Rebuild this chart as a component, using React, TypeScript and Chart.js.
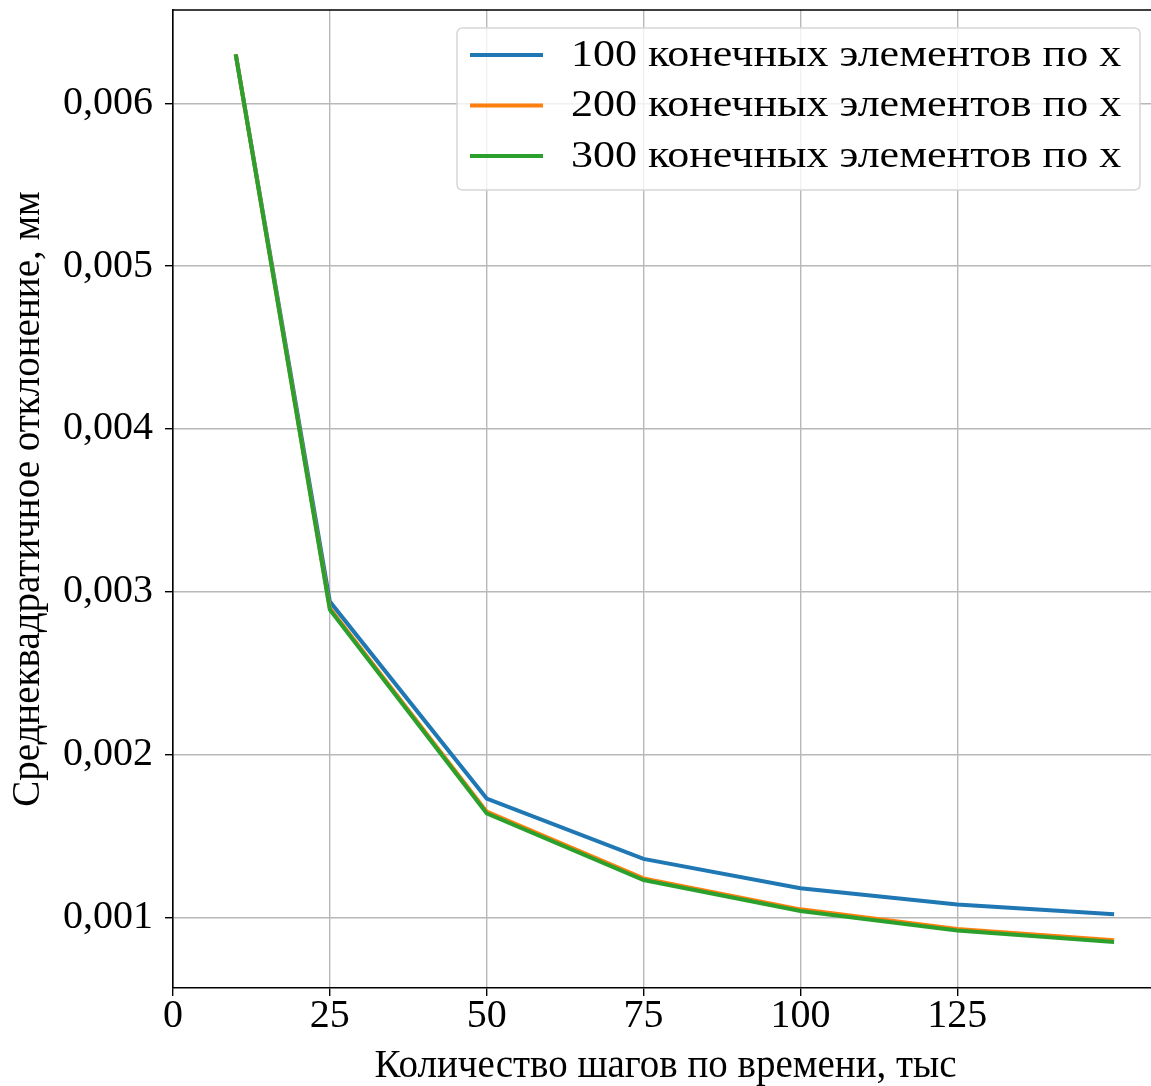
import React, { useEffect, useRef } from 'react';
import { Chart, registerables } from 'chart.js';

Chart.register(...registerables);

// ---- data ----
const timeSteps = [10, 25, 50, 75, 100, 125, 150];
const series100 = [0.0063, 0.00294, 0.00173, 0.00136, 0.00118, 0.00108, 0.00102];
const series200 = [0.0063, 0.0029, 0.00165, 0.00124, 0.00105, 0.00093, 0.00086];
const series300 = [0.0063, 0.00289, 0.00164, 0.00123, 0.00104, 0.00092, 0.00085];
const seriesLabels = [
  '100 конечных элементов по x',
  '200 конечных элементов по x',
  '300 конечных элементов по x',
];
const xTickValues = [0, 25, 50, 75, 100, 125];
const yTickValues = [0.001, 0.002, 0.003, 0.004, 0.005, 0.006];
const xTitle = 'Количество шагов по времени, тыс';
const yTitle = 'Среднеквадратичное отклонение, мм';

const FONT = "'Liberation Serif', 'Times New Roman', serif";
const COLORS = ['#1f77b4', '#ff7f0e', '#2ca02c'];

const W = 1160;
const H = 1086;

const framePlugin = {
  id: 'frameAndLegend',
  afterDatasetsDraw(chart: any) {
    const { ctx, chartArea } = chart;
    ctx.save();
    // top & right spines
    ctx.strokeStyle = '#000';
    ctx.lineWidth = 1.6;
    ctx.beginPath();
    ctx.moveTo(chartArea.left, chartArea.top);
    ctx.lineTo(chartArea.right, chartArea.top);
    ctx.lineTo(chartArea.right, chartArea.bottom);
    ctx.stroke();

    // legend (matplotlib style, upper right inside axes)
    const bx = 457, by = 28, bw = 683, bh = 162, r = 6;
    ctx.beginPath();
    ctx.moveTo(bx + r, by);
    ctx.lineTo(bx + bw - r, by);
    ctx.quadraticCurveTo(bx + bw, by, bx + bw, by + r);
    ctx.lineTo(bx + bw, by + bh - r);
    ctx.quadraticCurveTo(bx + bw, by + bh, bx + bw - r, by + bh);
    ctx.lineTo(bx + r, by + bh);
    ctx.quadraticCurveTo(bx, by + bh, bx, by + bh - r);
    ctx.lineTo(bx, by + r);
    ctx.quadraticCurveTo(bx, by, bx + r, by);
    ctx.closePath();
    ctx.fillStyle = 'rgba(255,255,255,0.8)';
    ctx.fill();
    ctx.strokeStyle = '#d6d6d6';
    ctx.lineWidth = 1.5;
    ctx.stroke();

    chart.data.datasets.forEach((ds: any, i: number) => {
      const y = 55 + i * 50.5;
      ctx.strokeStyle = ds.borderColor;
      ctx.lineWidth = 4;
      ctx.beginPath();
      ctx.moveTo(470, y);
      ctx.lineTo(543, y);
      ctx.stroke();
      ctx.save();
      ctx.translate(571, y + 1);
      ctx.scale(1.19, 1);
      ctx.fillStyle = '#000';
      ctx.font = `37px ${FONT}`;
      ctx.textAlign = 'left';
      ctx.textBaseline = 'middle';
      ctx.fillText(ds.label, 0, 0);
      ctx.restore();
    });
    ctx.restore();
  },
};

export default function App() {
  const ref = useRef<HTMLCanvasElement | null>(null);

  useEffect(() => {
    if (!ref.current) return;
    const mk = (vals: number[]) => timeSteps.map((x, i) => ({ x, y: vals[i] }));
    const chart = new Chart(ref.current, {
      type: 'line',
      data: {
        datasets: [
          { label: seriesLabels[0], data: mk(series100), borderColor: COLORS[0], order: 3 },
          { label: seriesLabels[1], data: mk(series200), borderColor: COLORS[1], order: 2 },
          { label: seriesLabels[2], data: mk(series300), borderColor: COLORS[2], order: 1 },
        ].map((d) => ({
          ...d,
          borderWidth: 4,
          pointRadius: 0,
          tension: 0,
          fill: false,
          backgroundColor: d.borderColor,
        })),
      },
      options: {
        responsive: false,
        animation: false,
        devicePixelRatio: 1,
        layout: { padding: { left: 0, top: 10, right: 2, bottom: 0 } },
        plugins: {
          legend: { display: false },
          tooltip: { enabled: false },
        },
        scales: {
          x: {
            type: 'linear',
            min: 0,
            max: 157,
            afterBuildTicks: (s: any) => {
              s.ticks = xTickValues.map((v) => ({ value: v }));
            },
            afterFit: (s: any) => {
              s.height = 98;
              s.paddingLeft = 0;
              s.paddingRight = 0;
            },
            ticks: {
              color: '#000',
              padding: 0,
              font: { family: FONT, size: 40, lineHeight: 1 },
              maxRotation: 0,
              callback: (v: any) => String(v),
            },
            grid: {
              color: '#b8b8b8',
              lineWidth: 1.4,
              tickColor: '#000',
              tickLength: 8,
              tickWidth: 1.4,
            },
            border: { display: true, color: '#000', width: 1.6 },
            title: {
              display: true,
              text: xTitle,
              color: '#000',
              font: { family: FONT, size: 39, lineHeight: 1 },
              padding: { top: 0, bottom: 0 },
            },
          },
          y: {
            type: 'linear',
            min: 0.000567,
            max: 0.006573,
            afterBuildTicks: (s: any) => {
              s.ticks = yTickValues.map((v) => ({ value: v }));
            },
            afterFit: (s: any) => {
              s.width = 173;
              s.paddingTop = 0;
              s.paddingBottom = 0;
            },
            ticks: {
              color: '#000',
              padding: 12,
              font: { family: FONT, size: 40, lineHeight: 1 },
              callback: (v: any) => Number(v).toFixed(3).replace('.', ','),
            },
            grid: {
              color: '#b8b8b8',
              lineWidth: 1.4,
              tickColor: '#000',
              tickLength: 8,
              tickWidth: 1.4,
            },
            border: { display: true, color: '#000', width: 1.6 },
            title: {
              display: true,
              text: yTitle,
              color: '#000',
              font: { family: FONT, size: 39, lineHeight: 1 },
              padding: { top: 9, bottom: 0 },
            },
          },
        },
      },
      plugins: [framePlugin],
    });
    return () => chart.destroy();
  }, []);

  return (
    <div style={{ position: 'fixed', left: 0, top: 0, width: W, height: H, background: '#fff' }}>
      <canvas ref={ref} width={W} height={H} style={{ width: W, height: H, display: 'block' }} />
    </div>
  );
}
